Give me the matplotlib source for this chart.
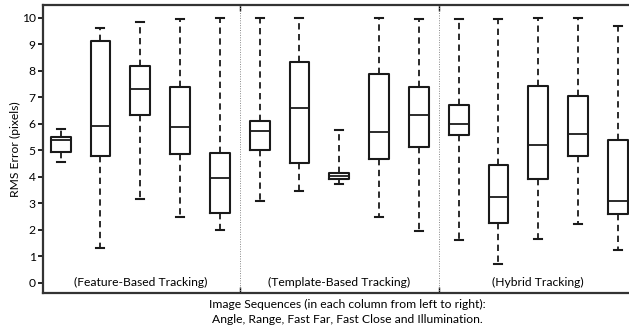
import matplotlib

matplotlib.use("Agg")
import matplotlib.pyplot as plt

plt.rcParams["font.family"] = ["Lato", "DejaVu Sans"]

groups = ["(Feature-Based Tracking)", "(Template-Based Tracking)", "(Hybrid Tracking)"]
sequences = ["Angle", "Range", "Fast Far", "Fast Close", "Illumination"]

# per box: lower whisker, Q1, median, Q3, upper whisker
whislo = [4.54, 1.31, 3.17, 2.49, 1.99,
          3.09, 3.47, 3.72, 2.48, 1.96,
          1.61, 0.72, 1.65, 2.23, 1.23]
q1 = [4.92, 4.79, 6.33, 4.85, 2.64,
      5.01, 4.50, 3.91, 4.66, 5.13,
      5.56, 2.25, 3.92, 4.78, 2.58]
med = [5.38, 5.92, 7.30, 5.88, 3.95,
       5.74, 6.58, 4.04, 5.70, 6.32,
       6.00, 3.22, 5.20, 5.60, 3.09]
q3 = [5.49, 9.12, 8.17, 7.38, 4.89,
      6.10, 8.33, 4.15, 7.86, 7.38,
      6.71, 4.43, 7.43, 7.03, 5.38]
whishi = [5.80, 9.62, 9.85, 9.94, 9.98,
          10.0, 10.0, 5.75, 10.0, 9.95,
          9.95, 9.95, 10.0, 10.0, 9.67]

stats = [
    {"whislo": a, "q1": b, "med": c, "q3": d, "whishi": e, "fliers": []}
    for a, b, c, d, e in zip(whislo, q1, med, q3, whishi)
]
positions = list(range(1, len(stats) + 1))

fig = plt.figure(figsize=(6.29, 3.34), dpi=100)
ax = fig.add_axes([0.068, 0.123, 0.932, 0.862])

ax.bxp(
    stats,
    positions=positions,
    widths=0.5,
    showfliers=False,
    boxprops=dict(color="#1a1a1a", linewidth=1.5),
    medianprops=dict(color="#1a1a1a", linewidth=1.3),
    whiskerprops=dict(color="#1a1a1a", linewidth=1.3, linestyle=(0, (3.5, 2.5))),
    capprops=dict(color="#1a1a1a", linewidth=1.5),
    capwidths=0.2,
)

n = len(sequences)
for k in range(1, len(groups)):
    ax.axvline(k * n + 0.5, color="#888888", linewidth=0.7, linestyle=(0, (1, 1.5)))
for k, name in enumerate(groups):
    ax.text(k * n + (n + 1) / 2, 0, name, ha="center", va="center", fontsize=8.7)

ax.set_xlim(0.55, 15.28)
ax.set_ylim(-0.39, 10.48)
ax.set_yticks(range(0, 11))
ax.set_xticks([n + 0.5, 2 * n + 0.5])
ax.set_xticklabels([])
ax.tick_params(axis="x", direction="in", length=4, top=True, width=1)
ax.tick_params(axis="y", direction="out", length=3.5, width=1.2, labelsize=8.7, pad=1.5)
ax.spines["right"].set_visible(False)
for s in ["left", "top", "bottom"]:
    ax.spines[s].set_linewidth(1.6)
    ax.spines[s].set_color("#333333")

ax.set_ylabel("RMS Error (pixels)", fontsize=8.7)
ax.yaxis.set_label_coords(-0.046, 0.5, transform=ax.transAxes)
ax.yaxis.label.set_va("center")
ax.set_xlabel(
    "Image Sequences (in each column from left to right):\n"
    "Angle, Range, Fast Far, Fast Close and Illumination.",
    fontsize=8.7,
    linespacing=1.45,
)
ax.xaxis.set_label_coords(0.52, -0.022, transform=ax.transAxes)
ax.xaxis.label.set_va("top")

fig.savefig("out.png", dpi=100)
